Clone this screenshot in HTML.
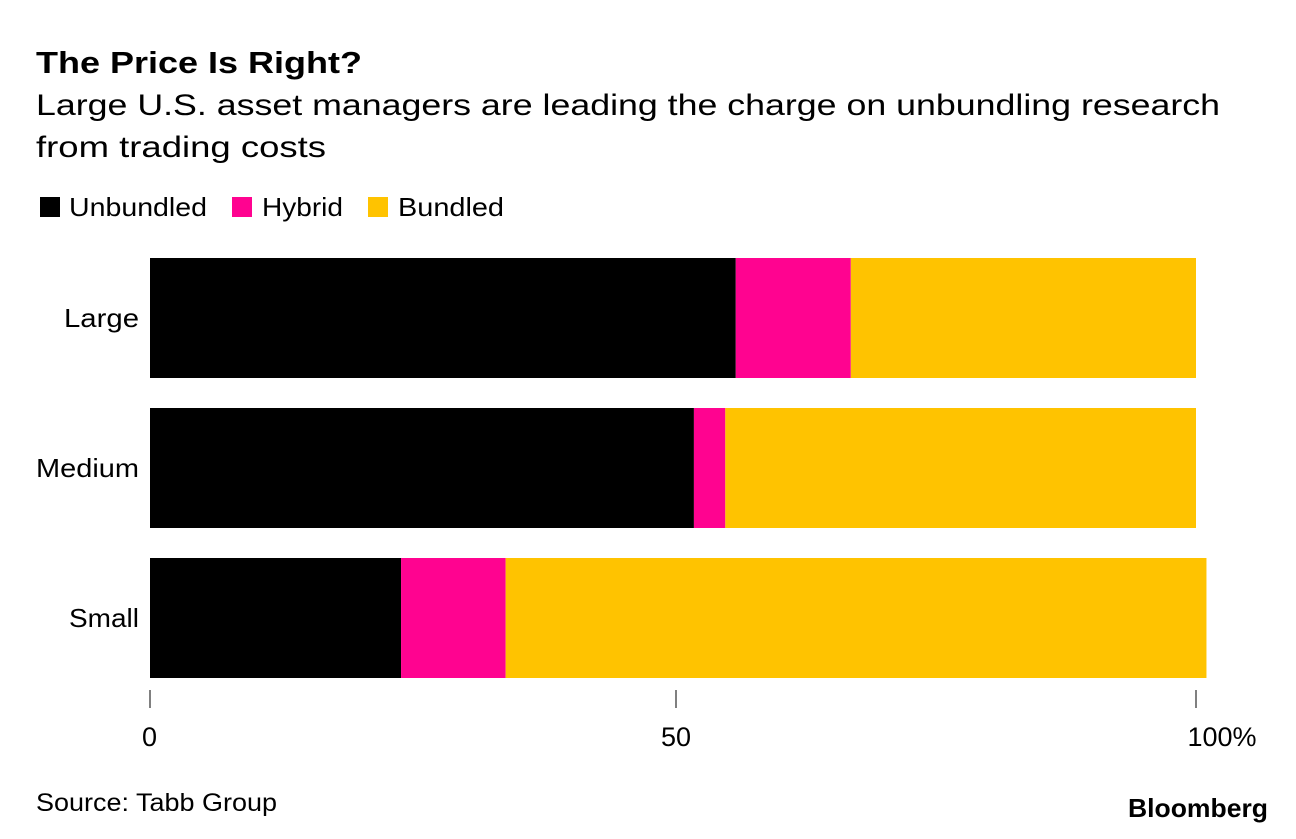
<!DOCTYPE html>
<html><head><meta charset="utf-8"><style>
body{margin:0;background:#fff;font-family:"Liberation Sans",sans-serif;}
svg text{font-family:"Liberation Sans",sans-serif;}
</style></head><body>
<svg width="1296" height="834" viewBox="0 0 1296 834">
<text x="36" y="73" font-size="31" font-weight="bold" fill="#000" textLength="326" lengthAdjust="spacingAndGlyphs">The Price Is Right?</text>
<text x="36" y="115" font-size="30" fill="#000" textLength="1184" lengthAdjust="spacingAndGlyphs">Large U.S. asset managers are leading the charge on unbundling research</text>
<text x="36" y="157" font-size="30" fill="#000" textLength="290" lengthAdjust="spacingAndGlyphs">from trading costs</text>
<g>
<rect x="40" y="197" width="20" height="20" fill="#000"/>
<text x="69" y="216" font-size="26" textLength="138" lengthAdjust="spacingAndGlyphs">Unbundled</text>
<rect x="232" y="197" width="20" height="20" fill="#ff0390"/>
<text x="262" y="216" font-size="26" textLength="81" lengthAdjust="spacingAndGlyphs">Hybrid</text>
<rect x="368" y="197" width="20" height="20" fill="#ffc300"/>
<text x="398" y="216" font-size="26" textLength="106" lengthAdjust="spacingAndGlyphs">Bundled</text>
</g>
<g id="plot"></g>
<text x="36" y="811" font-size="25" textLength="241" lengthAdjust="spacingAndGlyphs">Source: Tabb Group</text>
<text x="1128" y="817" font-size="26" font-weight="bold" textLength="140" lengthAdjust="spacingAndGlyphs">Bloomberg</text>
</svg>
<script>
const categories = ["Large", "Medium", "Small"];
const unbundled = [56, 52, 24];
const hybrid = [11, 3, 10];
const bundled = [33, 45, 67];
const tickValues = [0, 50, 100];
const tickLabels = ["0", "50", "100%"];

const NS = "http://www.w3.org/2000/svg";
const plot = document.getElementById("plot");
const x = v => 150 + v * 10.46;
const y = i => 258 + i * 150;
const bh = 120;
const labelWidths = {Large: 75, Medium: 103, Small: 70};
function mk(tag, attrs, txt) {
  const e = document.createElementNS(NS, tag);
  for (const k in attrs) e.setAttribute(k, attrs[k]);
  if (txt !== undefined) e.textContent = txt;
  plot.appendChild(e);
  return e;
}
const series = [[unbundled, "#000", "unbundled"], [hybrid, "#ff0390", "hybrid"], [bundled, "#ffc300", "bundled"]];
categories.forEach((c, i) => {
  let acc = 0;
  series.forEach(([vals, col, nm]) => {
    const r = mk("rect", {x: x(acc), y: y(i), width: x(acc + vals[i]) - x(acc), height: bh, fill: col});
    
    
    acc += vals[i];
  });
  const t = mk("text", {x: 139, y: y(i) + bh / 2 + 9, "font-size": 26, "text-anchor": "end", textLength: labelWidths[c], lengthAdjust: "spacingAndGlyphs"}, c);
  
  
});
tickValues.forEach((v, i) => {
  const tx0 = v === 50 ? x(v) + 3 : x(v);
  const l = mk("line", {x1: tx0, x2: tx0, y1: 690, y2: 708, stroke: "#000", "stroke-width": 1});
  
  
  const anchor = i === 0 ? "start" : "middle";
  const tx = i === tickValues.length - 1 ? x(v) + 26 : (i === 0 ? x(v) - 8 : tx0);
  const t = mk("text", {x: tx, y: 746, "font-size": 27, "text-anchor": anchor}, tickLabels[i]);
  
  
});
</script>
</body></html>
